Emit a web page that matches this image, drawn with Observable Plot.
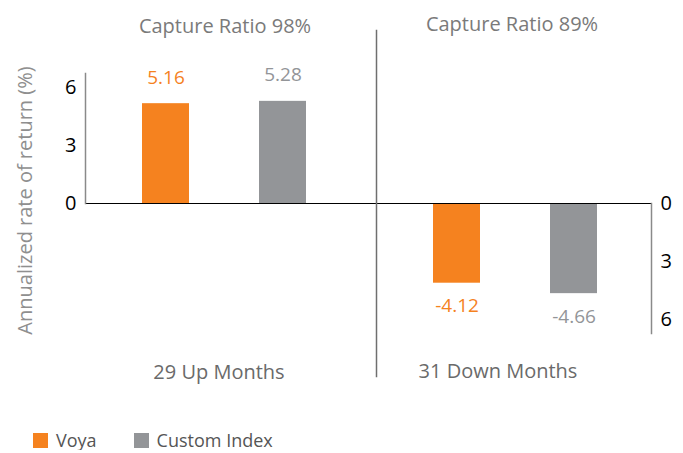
<!DOCTYPE html>
<html>
<head>
<meta charset="utf-8">
<script src="https://cdn.jsdelivr.net/npm/d3@7"></script>
<script src="https://cdn.jsdelivr.net/npm/@observablehq/plot@0.6"></script>
<style>
  body { margin: 0; background: #fff; font-family: "Open Sans", sans-serif; overflow: hidden; }
  #chart svg { display: block; }
  .legend { display: flex; align-items: center; padding-left: 33px; margin-top: 20px; height: 20px; line-height: 20px; font-size: 18px; color: #555; }
  .legend .sw { width: 15px; height: 15px; display: inline-block; margin-right: 8px; }
  .legend .item { display: flex; align-items: center; margin-right: 37px; }
</style>
</head>
<body>
<div id="chart"></div>
<script>
const series = ["Voya", "Custom Index"];
const periods = ["Up", "Down"];
const voyaValues = [5.16, -4.12];
const indexValues = [5.28, -4.66];
const captureRatios = ["Capture Ratio 98%", "Capture Ratio 89%"];
const monthLabels = ["29 Up Months", "31 Down Months"];
const colors = ["#F5821F", "#939598"];
const upTicks = [0, 3, 6];
const downTicks = [0, -3, -6];
const axisMax = 6.72;
const yLabel = "Annualized rate of return (%)";

const rows = periods.flatMap((p, i) => [
  {period: p, series: series[0], value: voyaValues[i]},
  {period: p, series: series[1], value: indexValues[i]}
]);

const W = 683, H = 410, mTop = 73, mBottom = 77;
const half = (H - mTop - mBottom) / 2;
const font = "'Open Sans', sans-serif";

const chart = Plot.plot({
  width: W, height: H,
  marginTop: mTop, marginBottom: mBottom, marginLeft: 85, marginRight: 31,
  style: {fontFamily: font, color: "black", background: "white"},
  fx: {domain: periods, axis: null, paddingInner: 0.0549, paddingOuter: 0},
  x: {domain: series, axis: null, paddingInner: 0.6, paddingOuter: 0.4723, align: 0.5135},
  y: {domain: [-axisMax, axisMax], axis: null},
  color: {domain: series, range: colors},
  marks: [
    Plot.barY(rows, {fx: "period", x: "series", y: "value", fill: "series"}),
    Plot.ruleY(rows.filter(d => d.period === "Up" && d.series === series[0]), {fx: "period", y: () => 0, stroke: "black", strokeWidth: 1, insetRight: -16}),
    Plot.ruleY(rows.filter(d => d.period === "Down" && d.series === series[0]), {fx: "period", y: () => 0, stroke: "black", strokeWidth: 1}),
    Plot.frame({fx: "Up", anchor: "left", stroke: "#8a8a8a", strokeWidth: 1.5, insetBottom: half}),
    Plot.frame({fx: "Down", anchor: "left", stroke: "#6f6f6f", strokeWidth: 1.5, insetTop: -43, insetBottom: -43}),
    Plot.frame({fx: "Down", anchor: "right", stroke: "#8a8a8a", strokeWidth: 1.5, insetTop: half}),
    Plot.axisY(upTicks, {anchor: "left", tickSize: 0, tickPadding: 9, fontSize: 20, fill: "black", label: null}),
    Plot.axisY(downTicks, {anchor: "right", tickSize: 0, tickPadding: 9, fontSize: 20, fill: "black", label: null, tickFormat: d => Math.abs(d)}),
    Plot.text(rows.filter(d => d.value > 0), {fx: "period", x: "series", y: "value", text: d => d.value.toFixed(2), fill: "series", dy: -26, fontSize: 19}),
    Plot.text(rows.filter(d => d.value < 0), {fx: "period", x: "series", y: "value", text: d => d.value.toFixed(2), fill: "series", dy: 23, fontSize: 19}),
    Plot.text([0], {fx: () => "Up", text: () => captureRatios[0], frameAnchor: "top", dy: -55, dx: 2, fontSize: 20, fill: "#7a7a7a"}),
    Plot.text([1], {fx: () => "Down", text: () => captureRatios[1], frameAnchor: "top", dy: -57, fontSize: 20, fill: "#7a7a7a", dx: -2}),
    Plot.text([0], {fx: () => "Up", text: () => monthLabels[0], frameAnchor: "bottom", dy: 45, dx: -4, fontSize: 20, fill: "#6a6a6a"}),
    Plot.text([1], {fx: () => "Down", text: () => monthLabels[1], frameAnchor: "bottom", dy: 44, dx: -16, fontSize: 20, fill: "#6a6a6a"}),
    Plot.text([yLabel], {fx: () => "Up", text: d => d, frameAnchor: "left", textAnchor: "middle", rotate: -90, dx: -60, dy: -3, fontSize: 20, fill: "#8f8f8f"})
  ]
});
document.getElementById("chart").appendChild(chart);

const legend = document.createElement("div");
legend.className = "legend";
series.forEach((s, i) => {
  const item = document.createElement("span");
  item.className = "item";
  const sw = document.createElement("span");
  sw.className = "sw";
  sw.style.background = colors[i];
  item.appendChild(sw);
  item.appendChild(document.createTextNode(s));
  legend.appendChild(item);
});
document.body.appendChild(legend);
</script>
</body>
</html>
